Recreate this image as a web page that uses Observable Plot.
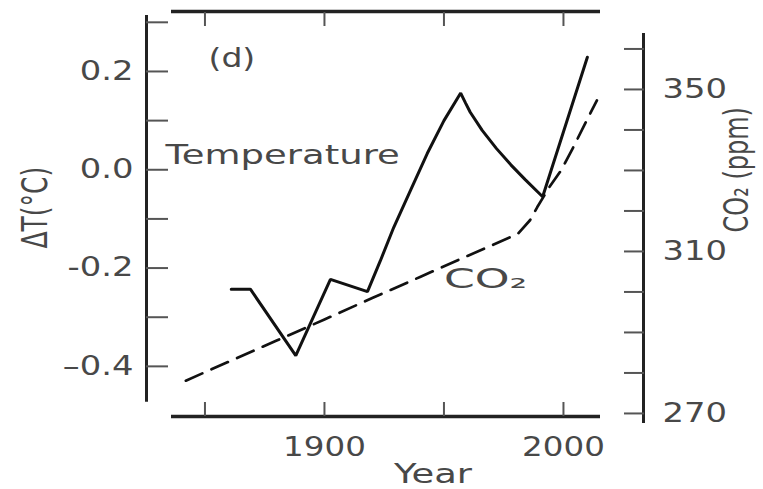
<!DOCTYPE html>
<html>
<head>
<meta charset="utf-8">
<script src="https://cdn.jsdelivr.net/npm/d3@7"></script>
<script src="https://cdn.jsdelivr.net/npm/@observablehq/plot@0.6"></script>
<style>
  html, body { margin: 0; padding: 0; background: #fff; }
  #chart { width: 763px; height: 489px; }
</style>
</head>
<body>
<div id="chart"></div>
<script>
// ---- Data ----
const tempYears  = [1861, 1869, 1888, 1902.5, 1918, 1923.4, 1929, 1936, 1943, 1950, 1957, 1959, 1961, 1966, 1972, 1978, 1984, 1991.3, 2010];
const tempValues = [-0.243, -0.243, -0.378, -0.223, -0.248, -0.185, -0.117, -0.042, 0.033, 0.100, 0.156, 0.136, 0.117, 0.080, 0.043, 0.010, -0.020, -0.055, 0.229];

const co2Years  = [1842, 1860, 1880, 1900, 1920, 1940, 1956, 1970, 1981, 1986, 1989, 1994, 1999, 2004, 2009, 2014];
const co2Values = [278.1, 282.8, 288.0, 293.2, 298.5, 303.7, 307.9, 311.5, 314.4, 317.7, 320.9, 325.8, 330.0, 335.6, 341.5, 347.3];

// axes
const yearTicks = [1850, 1900, 1950, 2000];
const yearLabels = [1900, 2000];
const tempTicks = [-0.4, -0.3, -0.2, -0.1, 0.0, 0.1, 0.2, 0.3];
const tempLabelValues = [-0.4, -0.2, 0.0, 0.2];
const tempLabelText = ["\u20130.4", "-0.2", "0.0", "0.2"];
const co2Ticks = [270, 280, 290, 300, 310, 320, 330, 340, 350, 360];
const co2LabelValues = [270, 310, 350];

// scale calibration
const xDomain = [1836, 2015.5];
const yDomain = [-0.502, 0.322];
const co2ToT = d3.scaleLinear().domain([270, 350]).range([-0.4958, 0.1634]);
const leftAxisExtent = [-0.473, 0.314];
const rightAxisExtent = [267.5, 363.8];

const temp = tempYears.map((y, i) => ({year: y, t: tempValues[i]}));
const co2 = co2Years.map((y, i) => ({year: y, ppm: co2Values[i]}));

const ink = "#222";
const textInk = "#484848";

const svg = Plot.plot({
  width: 763,
  height: 489,
  marginLeft: 171,
  marginRight: 163,
  marginTop: 11,
  marginBottom: 73,
  style: {background: "white", fontFamily: "DejaVu Sans", overflow: "visible"},
  x: {domain: xDomain},
  y: {domain: yDomain},
  marks: [
    // frame top / bottom
    Plot.ruleY(yDomain, {stroke: ink, strokeWidth: 3.5}),
    // left axis line & ticks
    Plot.ruleX([xDomain[0]], {y1: leftAxisExtent[0], y2: leftAxisExtent[1], dx: -25, stroke: ink, strokeWidth: 3}),
    Plot.axisY(tempTicks, {anchor: "left", tickSize: 22, dx: -3, fill: "none", stroke: "#555", strokeWidth: 2, label: null, tickFormat: () => ""}),
    // right axis line & ticks
    Plot.ruleX([xDomain[1]], {y1: co2ToT(rightAxisExtent[0]), y2: co2ToT(rightAxisExtent[1]), dx: 43, stroke: ink, strokeWidth: 3}),
    Plot.axisY(co2Ticks.map(co2ToT), {anchor: "right", tickSize: 20, dx: 23, fill: "none", stroke: "#555", strokeWidth: 2, label: null, tickFormat: () => ""}),
    // x ticks top & bottom (inward)
    Plot.axisX(yearTicks, {anchor: "top", tickSize: 14, dy: 14, fill: "none", stroke: "#555", strokeWidth: 2, label: null, tickFormat: () => ""}),
    Plot.axisX(yearTicks, {anchor: "bottom", tickSize: 14, dy: -14, fill: "none", stroke: "#555", strokeWidth: 2, label: null, tickFormat: () => ""}),

    // data
    Plot.line(co2, {x: "year", y: d => co2ToT(d.ppm), stroke: "#111", strokeWidth: 2.7, strokeDasharray: "18,10"}),
    Plot.line(temp, {x: "year", y: "t", stroke: "#111", strokeWidth: 3, strokeLinejoin: "miter"}),

    // tick labels
    Plot.text(tempLabelValues, {y: d => d, text: (d, i) => tempLabelText[i], frameAnchor: "left", dx: -38, textAnchor: "end", lineAnchor: "middle", fontSize: 26, fill: textInk, ariaDescription: "stretch-1.3"}),
    Plot.text(co2LabelValues, {y: d => co2ToT(d), text: d => String(d), frameAnchor: "right", dx: 62, textAnchor: "start", lineAnchor: "middle", fontSize: 26, fill: textInk, ariaDescription: "stretch-1.3"}),
    Plot.text(yearLabels, {x: d => d, text: d => String(d), frameAnchor: "bottom", dy: 31, textAnchor: "middle", lineAnchor: "middle", fontSize: 26, fill: textInk, ariaDescription: "stretch-1.25"}),

    // axis titles
    Plot.text(["Year"], {x: 1950, frameAnchor: "bottom", dx: -11, dy: 58, textAnchor: "middle", lineAnchor: "middle", fontSize: 26, fill: textInk, ariaDescription: "stretch-1.42"}),
    Plot.text(["\u0394T(\u00B0C)"], {y: -0.077, frameAnchor: "left", dx: -136, rotate: -90, textAnchor: "middle", lineAnchor: "middle", fontSize: 25, fill: textInk, ariaDescription: "stretch-1.4"}),
    Plot.text(["CO\u2082 (ppm)"], {y: 0.0, frameAnchor: "right", dx: 137, rotate: -90, textAnchor: "middle", lineAnchor: "middle", fontSize: 24, fill: textInk, ariaDescription: "stretch-1.4"}),

    // annotations
    Plot.text(["(d)"], {x: 1851.5, y: 0.226, textAnchor: "start", fontSize: 26, fill: textInk, ariaDescription: "stretch-1.27"}),
    Plot.text(["Temperature"], {x: 1833.5, y: 0.029, textAnchor: "start", fontSize: 27, fill: textInk, ariaDescription: "stretch-1.37"}),
    Plot.text(["CO\u2082"], {x: 1950, y: -0.223, textAnchor: "start", fontSize: 26, fill: textInk, ariaDescription: "stretch-1.7"})
  ]
});

document.getElementById("chart").append(svg);

// horizontal stretch to mimic the wide geometric typeface of the original
svg.querySelectorAll("g[aria-description^='stretch-']").forEach(g => {
  const s = parseFloat(g.getAttribute("aria-description").slice(8));
  g.querySelectorAll("text").forEach(t => {
    const tr = t.getAttribute("transform") || "";
    const m = tr.match(/^\s*(translate\([^)]*\))(.*)$/);
    if (m) {
      t.setAttribute("transform", `${m[1]} scale(${s},1)${m[2]}`);
    } else {
      const x = +(t.getAttribute("x") || 0), y = +(t.getAttribute("y") || 0);
      t.setAttribute("transform", `translate(${x},${y}) scale(${s},1) translate(${-x},${-y}) ${tr}`);
    }
  });
});
</script>
</body>
</html>
